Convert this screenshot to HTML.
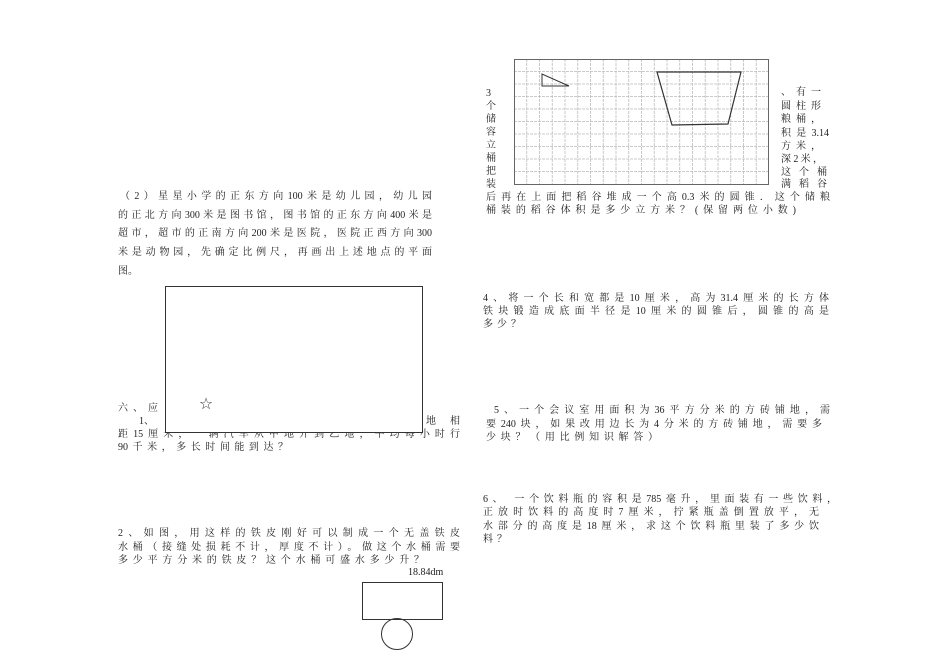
<!DOCTYPE html>
<html><head><meta charset="utf-8"><style>
body{margin:0;width:950px;height:672px;background:#fff;position:relative;overflow:hidden;font-family:"Liberation Serif","Noto Serif CJK SC","Noto Sans CJK SC",serif;color:#222}
.l{position:absolute;font-size:10px;line-height:12px;white-space:nowrap;text-align:justify;text-align-last:justify}
.s{position:absolute;font-size:10px;line-height:12px;white-space:nowrap}
svg{position:absolute;left:0;top:0}
</style></head><body>
<div class="l" style="left:120px;top:191px;width:312px">（2）星星小学的正东方向100米是幼儿园，幼儿园</div>
<div class="l" style="left:118px;top:210px;width:314px">的正北方向300米是图书馆，图书馆的正东方向400米是</div>
<div class="l" style="left:118px;top:228px;width:314px">超市，超市的正南方向200米是医院，医院正西方向300</div>
<div class="l" style="left:118px;top:247px;width:314px">米是动物园，先确定比例尺，再画出上述地点的平面</div>
<div class="s" style="left:118px;top:266px">图。</div>

<div class="l" style="left:118px;top:403px;width:40px">六、应</div>
<div class="s" style="left:139px;top:416px">1、</div>
<div class="l" style="left:426px;top:416px;width:34px">地相</div>
<div class="l" style="left:118px;top:429px;width:342px">距15厘米，一辆汽车从甲地开到乙地，平均每小时行</div>
<div class="l" style="left:118px;top:442px;width:170px">90千米，多长时间能到达？</div>

<div class="l" style="left:118px;top:528px;width:342px">2、如图，用这样的铁皮刚好可以制成一个无盖铁皮</div>
<div class="l" style="left:118px;top:542px;width:342px">水桶（接缝处损耗不计，厚度不计）。做这个水桶需要</div>
<div class="l" style="left:118px;top:555px;width:306px">多少平方分米的铁皮？这个水桶可盛水多少升？</div>
<div class="s" style="left:408px;top:567px">18.84dm</div>

<div class="s" style="left:486px;top:87px;line-height:13px">3<br>个<br>储<br>容<br>立<br>桶<br>把<br>装</div>
<div class="l" style="left:781px;top:87px;width:40px">、有一</div>
<div class="l" style="left:781px;top:101px;width:40px">圆柱形</div>
<div class="l" style="left:781px;top:114px;width:40px">粮桶，</div>
<div class="l" style="left:781px;top:128px;width:48px">积是3.14</div>
<div class="l" style="left:781px;top:141px;width:40px">方米，</div>
<div class="l" style="left:781px;top:154px;width:42px">深2米，</div>
<div class="l" style="left:781px;top:167px;width:46px">这个桶</div>
<div class="l" style="left:781px;top:179px;width:46px">满稻谷</div>
<div class="l" style="left:486px;top:192px;width:344px">后再在上面把稻谷堆成一个高0.3米的圆锥．这个储粮</div>
<div class="l" style="left:486px;top:205px;width:310px">桶装的稻谷体积是多少立方米？(保留两位小数)</div>

<div class="l" style="left:483px;top:293px;width:346px">4、将一个长和宽都是10厘米，高为31.4厘米的长方体</div>
<div class="l" style="left:483px;top:306px;width:346px">铁块锻造成底面半径是10厘米的圆锥后，圆锥的高是</div>
<div class="s" style="left:483px;top:319px;letter-spacing:4px">多少？</div>

<div class="l" style="left:494px;top:405px;width:336px">5、一个会议室用面积为36平方分米的方砖铺地，需</div>
<div class="l" style="left:486px;top:419px;width:336px">要240块，如果改用边长为4分米的方砖铺地，需要多</div>
<div class="l" style="left:486px;top:432px;width:172px">少块？（用比例知识解答）</div>

<div class="l" style="left:483px;top:494px;width:354px">6、 一个饮料瓶的容积是785毫升，里面装有一些饮料，</div>
<div class="l" style="left:483px;top:507px;width:336px">正放时饮料的高度时7厘米，拧紧瓶盖倒置放平，无</div>
<div class="l" style="left:483px;top:521px;width:336px">水部分的高度是18厘米，求这个饮料瓶里装了多少饮</div>
<div class="s" style="left:483px;top:534px;letter-spacing:4px">料？</div>

<svg width="950" height="672" viewBox="0 0 950 672">
<rect x="165.5" y="286.5" width="257" height="146" fill="#fff" stroke="#333" stroke-width="1"/>
<text x="206" y="409" font-size="16" text-anchor="middle" fill="#333" font-family="DejaVu Sans">☆</text>
<g stroke="#bbb" stroke-width="0.8" stroke-dasharray="3,1">
<line x1="526.75" y1="59" x2="526.75" y2="184"/><line x1="539.5" y1="59" x2="539.5" y2="184"/><line x1="552.25" y1="59" x2="552.25" y2="184"/><line x1="565" y1="59" x2="565" y2="184"/><line x1="577.75" y1="59" x2="577.75" y2="184"/><line x1="590.5" y1="59" x2="590.5" y2="184"/><line x1="603.25" y1="59" x2="603.25" y2="184"/><line x1="616" y1="59" x2="616" y2="184"/><line x1="628.75" y1="59" x2="628.75" y2="184"/><line x1="641.5" y1="59" x2="641.5" y2="184"/><line x1="654.25" y1="59" x2="654.25" y2="184"/><line x1="667" y1="59" x2="667" y2="184"/><line x1="679.75" y1="59" x2="679.75" y2="184"/><line x1="692.5" y1="59" x2="692.5" y2="184"/><line x1="705.25" y1="59" x2="705.25" y2="184"/><line x1="718" y1="59" x2="718" y2="184"/><line x1="730.75" y1="59" x2="730.75" y2="184"/><line x1="743.5" y1="59" x2="743.5" y2="184"/><line x1="756.25" y1="59" x2="756.25" y2="184"/>
<line x1="514" y1="71.5" x2="769" y2="71.5"/><line x1="514" y1="84" x2="769" y2="84"/><line x1="514" y1="96.5" x2="769" y2="96.5"/><line x1="514" y1="109" x2="769" y2="109"/><line x1="514" y1="121.5" x2="769" y2="121.5"/><line x1="514" y1="134" x2="769" y2="134"/><line x1="514" y1="146.5" x2="769" y2="146.5"/><line x1="514" y1="159" x2="769" y2="159"/><line x1="514" y1="171.5" x2="769" y2="171.5"/>
</g>
<rect x="514.5" y="59.5" width="254" height="125" fill="none" stroke="#666" stroke-width="1"/>
<polygon points="542,74 542,86 569,86" fill="none" stroke="#333" stroke-width="1"/>
<polygon points="657,72 741,72 728,124 672,125" fill="none" stroke="#333" stroke-width="1.2"/>
<rect x="362.5" y="582.5" width="80" height="37" fill="none" stroke="#333" stroke-width="1"/>
<circle cx="397" cy="634" r="15.5" fill="none" stroke="#333" stroke-width="1"/>
</svg>
</body></html>
